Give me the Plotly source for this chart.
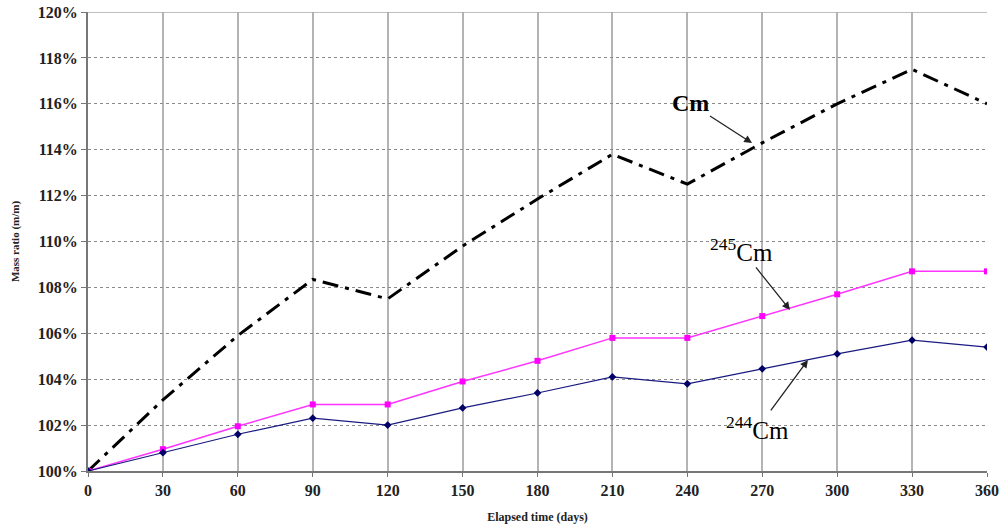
import plotly.graph_objects as go

days = [0, 30, 60, 90, 120, 150, 180, 210, 240, 270, 300, 330, 360]
cm_total = [100.0, 103.1, 105.9, 108.35, 107.5, 109.8, 111.85, 113.8, 112.5, 114.3, 116.0, 117.5, 116.0]
cm245 = [100.0, 100.95, 101.95, 102.9, 102.9, 103.9, 104.8, 105.8, 105.8, 106.75, 107.7, 108.7, 108.7]
cm244 = [100.0, 100.8, 101.6, 102.3, 102.0, 102.75, 103.4, 104.1, 103.8, 104.45, 105.1, 105.7, 105.4]
y_ticks = list(range(100, 121, 2))

fig = go.Figure()
fig.add_trace(go.Scatter(x=days, y=cm_total, mode="lines", name="Cm",
                         line=dict(color="black", width=3, dash="16px,7px,4px,7px")))
fig.add_trace(go.Scatter(x=days, y=cm245, mode="lines+markers", name="245Cm",
                         line=dict(color="#ff33ff", width=1.5),
                         marker=dict(symbol="square", size=6, color="#ff00ff")))
fig.add_trace(go.Scatter(x=days, y=cm244, mode="lines+markers", name="244Cm",
                         line=dict(color="#1a1a80", width=1.2),
                         marker=dict(symbol="diamond", size=6, color="#000066")))

tickfont = dict(family="Liberation Serif", size=16, color="#222222")
fig.update_layout(
    width=999, height=526,
    margin=dict(l=88, r=12, t=12, b=55),
    paper_bgcolor="white", plot_bgcolor="white",
    showlegend=False,
    xaxis=dict(range=[0, 360], tickvals=days, ticktext=[f"<b>{d}</b>" for d in days],
               automargin=False,
               showgrid=True, gridcolor="#b4b4b4", gridwidth=1.5,
               showline=True, linecolor="#777777", linewidth=2,
               ticks="outside", ticklen=4, tickcolor="#777777",
               tickfont=tickfont, zeroline=False,
               title=dict(text="<b>Elapsed time (days)</b>",
                          font=dict(family="Liberation Serif", size=12, color="#222222"),
                          standoff=14)),
    yaxis=dict(range=[100, 120], tickvals=y_ticks,
               ticktext=[f"<b>{v}%</b>" for v in y_ticks],
               automargin=False,
               showgrid=True, gridcolor="#8a8a8a", gridwidth=1.3, griddash="dot",
               showline=True, linecolor="#777777", linewidth=2,
               ticks="outside", ticklen=5, tickcolor="#777777",
               tickfont=tickfont, zeroline=False,
               title=dict(text="<b>Mass ratio (m/m)</b>",
                          font=dict(family="Liberation Serif", size=11, color="#222222"),
                          standoff=16)),
)

# top border at 120%
fig.add_shape(type="line", xref="x", yref="y", x0=0, x1=360, y0=120, y1=120,
              line=dict(color="#a8a8a8", width=1.5))

ann_font = dict(family="Liberation Serif", color="black")
fig.add_annotation(x=265.9, y=114.29, xref="x", yref="y", text="<b>Cm</b>",
                   ax=-62, ay=-40, showarrow=True, arrowhead=2, arrowsize=1.2,
                   arrowwidth=1.3, arrowcolor="#222222",
                   font=dict(size=24, **ann_font))
fig.add_annotation(x=281.1, y=107.02, xref="x", yref="y", text="<sup>245</sup>Cm",
                   ax=-48, ay=-60, showarrow=True, arrowhead=2, arrowsize=1.2,
                   arrowwidth=1.3, arrowcolor="#222222",
                   font=dict(size=25, **ann_font))
fig.add_annotation(x=288.3, y=104.84, xref="x", yref="y", text="<sup>244</sup>Cm",
                   ax=-50, ay=68, showarrow=True, arrowhead=2, arrowsize=1.2,
                   arrowwidth=1.3, arrowcolor="#222222",
                   font=dict(size=25, **ann_font))

fig.write_html("out.html")
